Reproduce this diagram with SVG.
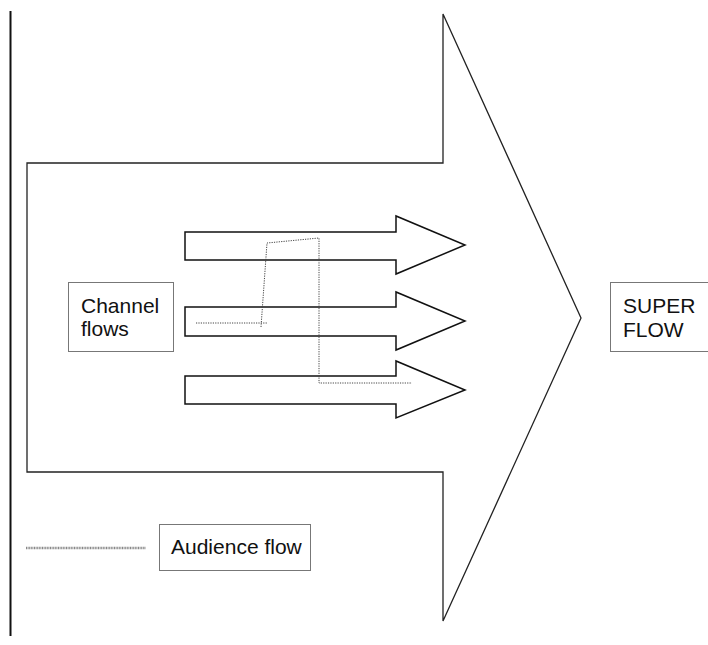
<svg xmlns="http://www.w3.org/2000/svg" width="708" height="645" viewBox="0 0 708 645">
<style>
.big{fill:none;stroke:#222;stroke-width:1.3}
.arr{fill:#fff;stroke:#111;stroke-width:1.5}
.box{fill:#fff;stroke:#777;stroke-width:1}
.lbl{font-family:"Liberation Sans",Arial,sans-serif;font-size:21px;fill:#111}
.aud{fill:none;stroke:#444;stroke-width:1;stroke-dasharray:1.2 1.2}
</style>
<rect width="708" height="645" fill="#fff"/>
<line x1="10.5" y1="11" x2="10.5" y2="636" stroke="#111" stroke-width="2"/>
<g id="super-arrow">
<path class="big" d="M27,163 H443 V14 L581,318 L443,621 V472 H27 Z"/>
</g>
<g id="channel-arrow-1"><path class="arr" d="M185,232 H396 V216 L465,245 L396,274 V260 H185 Z"/></g>
<g id="channel-arrow-2"><path class="arr" d="M185,307 H396 V292 L465,321 L396,350 V336 H185 Z"/></g>
<g id="channel-arrow-3"><path class="arr" d="M185,376 H396 V361 L465,390 L396,418 V404 H185 Z"/></g>
<g id="connectors">
<path class="aud" d="M196,323 H267"/>
<path class="aud" d="M261,327 L267,243 L319,238 V383 H412"/>
<line x1="26" y1="548" x2="146" y2="548" stroke="#888" stroke-width="2.5" stroke-dasharray="1 0.6"/>
</g>
<g id="channel-flows">
<rect class="box" x="68.5" y="282.5" width="105" height="69"/>
<text class="lbl" x="81" y="313">Channel</text>
<text class="lbl" x="81" y="336">flows</text>
</g>
<g id="super-flow">
<rect class="box" x="610.5" y="282.5" width="100" height="69"/>
<text class="lbl" x="623" y="313">SUPER</text>
<text class="lbl" x="623" y="337">FLOW</text>
</g>
<g id="audience-flow">
<rect class="box" x="159.5" y="524.5" width="151" height="46"/>
<text class="lbl" x="171" y="554">Audience flow</text>
</g>
</svg>
